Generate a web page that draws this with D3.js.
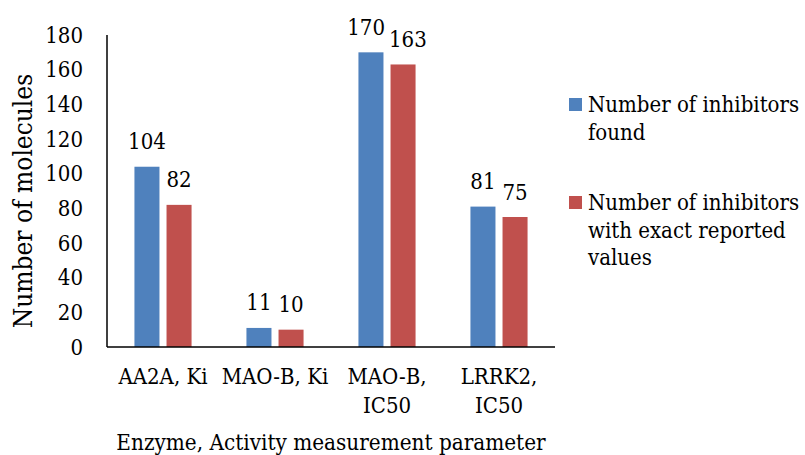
<!DOCTYPE html>
<html>
<head>
<meta charset="utf-8">
<script src="https://cdn.jsdelivr.net/npm/d3@7"></script>
<style>
  html, body { margin: 0; padding: 0; background: #fff; }
  svg { display: block; }
  text { font-family: "DejaVu Serif Condensed", "DejaVu Serif", serif; font-stretch: semi-condensed; fill: #000; }
</style>
</head>
<body>
<svg id="chart" width="805" height="455"></svg>
<script>
// Categories (each entry holds the lines of its axis label)
const categories = ["AA2A, Ki", "MAO-B, Ki", "MAO-B, IC50", "LRRK2, IC50"];
const categoryLines = [["AA2A, Ki"], ["MAO-B, Ki"], ["MAO-B,", "IC50"], ["LRRK2,", "IC50"]];

// Series values
const inhibitorsFound = [104, 11, 170, 81];
const inhibitorsExact = [82, 10, 163, 75];

const seriesNames = ["Number of inhibitors found", "Number of inhibitors with exact reported values"];
const seriesLegendLines = [
  ["Number of inhibitors", "found"],
  ["Number of inhibitors", "with exact reported", "values"]
];
const seriesColors = ["#4F81BD", "#C0504D"];

// Y axis ticks
const yTicks = [0, 20, 40, 60, 80, 100, 120, 140, 160, 180];

const yTitle = "Number of molecules";
const xTitle = "Enzyme, Activity measurement parameter";

const svg = d3.select("#chart");
const fontSize = 22;

const plot = { left: 107, right: 555, top: 35, bottom: 347 };

const x0 = d3.scaleBand()
  .domain(categories)
  .range([plot.left, plot.right])
  .paddingInner(0.49)
  .paddingOuter(0.245);

const x1 = d3.scaleBand()
  .domain([0, 1])
  .range([0, x0.bandwidth()])
  .paddingInner(0.22);

const y = d3.scaleLinear()
  .domain([0, 180])
  .range([plot.bottom, plot.top]);

const series = [inhibitorsFound, inhibitorsExact];

// Bars
const groups = svg.append("g").selectAll("g")
  .data(categories)
  .join("g")
  .attr("transform", d => `translate(${x0(d)},0)`);

groups.selectAll("rect")
  .data((d, i) => series.map((s, k) => ({ k, v: s[i] })))
  .join("rect")
  .attr("x", d => x1(d.k))
  .attr("y", d => y(d.v))
  .attr("width", x1.bandwidth())
  .attr("height", d => y(0) - y(d.v))
  .attr("fill", d => seriesColors[d.k]);

// Value labels above each bar
const labelGroups = groups.append("g").attr("class", "labels");
labelGroups.selectAll("text")
  .data((d, i) => series.map((s, k) => ({ k, v: s[i] })))
  .join("text")
  .attr("x", d => x1(d.k) + x1.bandwidth() / 2)
  .attr("y", d => y(d.v) - 17.5)
  .attr("text-anchor", "middle")
  .attr("font-size", fontSize)
  .text(d => d.v);

// Push apart the two labels of a group when they collide
labelGroups.each(function () {
  const texts = d3.select(this).selectAll("text").nodes();
  if (texts.length < 2) return;
  const a = texts[0].getBBox(), b = texts[1].getBBox();
  const hOverlap = (a.x + a.width) - b.x;
  const vOverlap = Math.min(a.y + a.height, b.y + b.height) - Math.max(a.y, b.y);
  if (hOverlap > -2 && vOverlap > 0) {
    const shift = hOverlap / 2 + 2;
    d3.select(texts[0]).attr("x", +texts[0].getAttribute("x") - shift);
    d3.select(texts[1]).attr("x", +texts[1].getAttribute("x") + shift);
  }
});

// Y axis
const yAxis = svg.append("g")
  .attr("transform", `translate(${plot.left},0)`)
  .call(d3.axisLeft(y).tickValues(yTicks).tickSize(0).tickPadding(24));
yAxis.select(".domain").attr("stroke", "#000").attr("stroke-width", 1.5)
  .attr("d", `M0,${plot.top}V${plot.bottom}`);
yAxis.selectAll(".tick text")
  .attr("font-size", fontSize)
  .attr("fill", "#000");
yAxis.attr("font-family", null).attr("font-size", null);

// X axis
const xAxis = svg.append("g")
  .attr("transform", `translate(0,${plot.bottom})`)
  .call(d3.axisBottom(x0).tickSize(0).tickFormat(""));
xAxis.select(".domain").attr("stroke", "#000").attr("stroke-width", 1.5)
  .attr("d", `M${plot.left},0H${plot.right}`);

// Category labels (multi-line)
const catLabels = svg.append("g").selectAll("text")
  .data(categories)
  .join("text")
  .attr("text-anchor", "middle")
  .attr("font-size", fontSize)
  .attr("transform", d => `translate(${x0(d) + x0.bandwidth() / 2},384)`);
catLabels.selectAll("tspan")
  .data((d, i) => categoryLines[i])
  .join("tspan")
  .attr("x", 0)
  .attr("dy", (d, i) => i === 0 ? 0 : 29)
  .text(d => d);

// Axis titles
svg.append("text")
  .attr("transform", `translate(32,${(plot.top + plot.bottom) / 2 + 10}) rotate(-90)`)
  .attr("text-anchor", "middle")
  .attr("font-size", 26)
  .text(yTitle);

svg.append("text")
  .attr("x", (plot.left + plot.right) / 2)
  .attr("y", 450)
  .attr("text-anchor", "middle")
  .attr("font-size", 22.3)
  .text(xTitle);

// Legend
const legendTops = [98, 196];
const legend = svg.append("g").selectAll("g")
  .data(seriesNames)
  .join("g")
  .attr("transform", (d, i) => `translate(569,${legendTops[i]})`);
legend.append("rect")
  .attr("width", 13)
  .attr("height", 13)
  .attr("fill", (d, i) => seriesColors[i]);
legend.append("text")
  .attr("x", 19)
  .attr("y", 14)
  .attr("font-size", fontSize)
  .selectAll("tspan")
  .data((d, i) => seriesLegendLines[i])
  .join("tspan")
  .attr("x", 19)
  .attr("dy", (d, i) => i === 0 ? 0 : 27.5)
  .text(d => d);
</script>
</body>
</html>
